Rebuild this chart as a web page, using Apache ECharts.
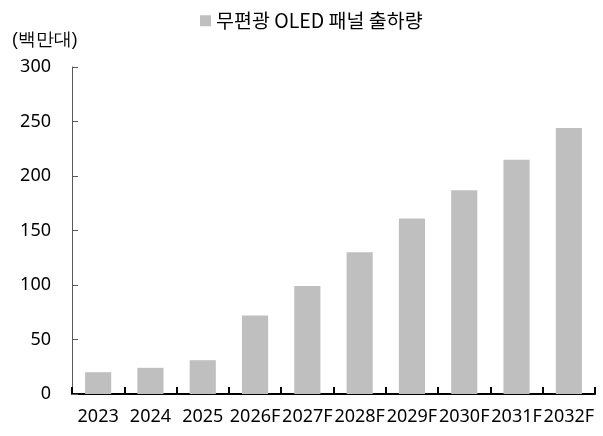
<!DOCTYPE html>
<html><head><meta charset="utf-8">
<script src="https://cdn.jsdelivr.net/npm/echarts@6/dist/echarts.min.js"></script>
<style>html,body{margin:0;padding:0;background:#fff}#c{width:603px;height:436px}</style>
</head><body><div id="c"></div>
<script>
const categories = ['2023','2024','2025','2026F','2027F','2028F','2029F','2030F','2031F','2032F'];
const shipments = [20, 24, 31, 72, 99, 130, 161, 187, 215, 244];
const seriesName = '무편광 OLED 패널 출하량';
const unitLabel = '(백만대)';
const font = '"Noto Sans CJK KR", "Noto Sans", sans-serif';
const numFont = '"Noto Sans", "Noto Sans CJK KR", sans-serif';
const chart = echarts.init(document.getElementById('c'));
chart.setOption({
  animation: false,
  textStyle: {fontFamily: font},
  legend: {
    data: [seriesName], left: 195, top: 6, itemWidth: 11, itemHeight: 11, itemGap: 5,
    textStyle: {fontSize: 19.5, color: '#000', fontFamily: font}, icon: 'rect'
  },
  graphic: [{
    type: 'text', left: 12, top: 31,
    style: {text: unitLabel, fontSize: 17.5, fill: '#000', font: '17.5px "Noto Sans CJK KR", sans-serif'}
  }],
  grid: {left: 72, right: 8, top: 67, bottom: 42, containLabel: false},
  xAxis: {
    type: 'category', data: categories,
    axisLine: {show: true, lineStyle: {color: '#000', width: 2}},
    axisTick: {show: true, inside: true, interval: 0, length: 7, lineStyle: {color: '#000', width: 2}},
    axisLabel: {fontSize: 18, color: '#000', margin: 14, interval: 0, fontFamily: numFont}
  },
  yAxis: {
    type: 'value', min: 0, max: 300, interval: 50,
    axisLine: {show: true, lineStyle: {color: '#595959', width: 1}},
    axisTick: {show: true, inside: true, length: 6, lineStyle: {color: '#595959'}},
    axisLabel: {fontSize: 18, color: '#000', margin: 21, fontFamily: numFont},
    splitLine: {show: false}
  },
  series: [{
    name: seriesName, type: 'bar', data: shipments, barWidth: '50%',
    itemStyle: {color: '#BFBFBF'}
  }]
});
</script></body></html>
